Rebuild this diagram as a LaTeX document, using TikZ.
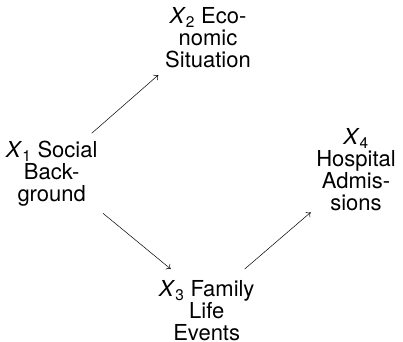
\documentclass[tikz,border=0pt]{standalone}
\usepackage{fontspec}
\setmainfont{TeX Gyre Heros}
\usetikzlibrary{arrows.meta,calc}
\newcommand\varx[1]{\textit{X}\textsubscript{#1}}
\begin{document}
\begin{tikzpicture}[x=1pt,y=1pt,
  lbl/.style={align=center,inner sep=0pt,font=\fontsize{22}{21.8}\selectfont},
  arr/.style={line width=0.5pt,-{To[length=4pt,width=7pt]}}]
\useasboundingbox (0,0) rectangle (403,341);
\node[lbl] (x1) at (51.7,167.5) {\varx{1} Social\\Back-\\ground};
\node[lbl] (x2) at (208,303.5) {\varx{2} Eco-\\nomic\\Situation};
\node[lbl] (x3) at (206.7,30.5) {\varx{3} Family\\Life\\Events};
\node[lbl] (x4) at (356,171.5) {\varx{4}\\Hospital\\Admis-\\sions};
\draw[arr] ($(x1.center)+(40,40.2)$) -- ($(x2.center)+(-49.7,-37.5)$);
\draw[arr] ($(x1.center)+(51.3,-39.8)$) -- ($(x3.center)+(-36,41.5)$);
\draw[arr] ($(x3.center)+(38,41.5)$) -- ($(x4.center)+(-45.3,-42.8)$);
\end{tikzpicture}
\end{document}
